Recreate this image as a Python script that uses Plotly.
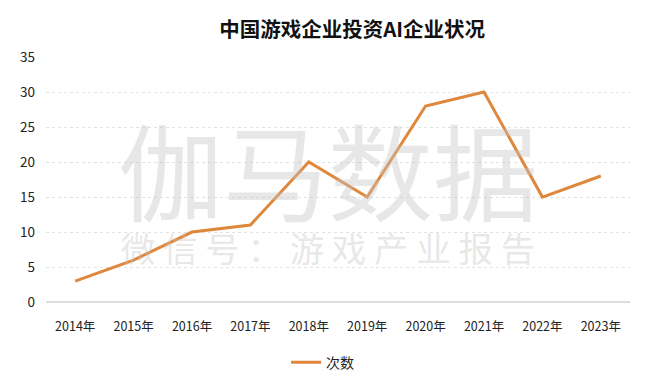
import plotly.graph_objects as go

years = ["2014年", "2015年", "2016年", "2017年", "2018年", "2019年", "2020年", "2021年", "2022年", "2023年"]
counts = [3, 6, 10, 11, 20, 15, 28, 30, 15, 18]
y_ticks = [0, 5, 10, 15, 20, 25, 30, 35]

wm_big = "伽马数据"
wm_small = ["微", "信", "号", "：", "游", "戏", "产", "业", "报", "告"]

font_family = "Noto Sans CJK SC, Noto Sans, sans-serif"
wm_color = "rgba(195,195,195,0.40)"

fig = go.Figure()
fig.add_trace(go.Scatter(
    x=years, y=counts, mode="lines", name="次数",
    line=dict(color="#DF873B", width=3),
))

wm_text = ('<span style="font-size:105px">' + wm_big + '</span><br>'
           '<span style="font-size:34.5px">' + " ".join(wm_small) + '</span>')
fig.add_annotation(text=wm_text, xref="paper", yref="paper", x=0.483, y=0.49,
                   xanchor="center", yanchor="middle", align="center",
                   showarrow=False, font=dict(size=37.7, color=wm_color, family=font_family))

fig.update_layout(
    width=642, height=378,
    margin=dict(l=32, r=20, t=49, b=81),
    paper_bgcolor="white", plot_bgcolor="white",
    title=dict(text="<b>中国游戏企业投资AI企业状况</b>", x=0.536, xanchor="center", y=0.942, yanchor="middle",
               font=dict(size=20.5, color="#111111", family=font_family)),
    font=dict(family=font_family, color="#222222", size=13),
    showlegend=True,
    legend=dict(orientation="h", xref="container", yref="container", x=0.49, xanchor="center",
                y=0.062, yanchor="middle", font=dict(size=14, color="#222222")),
    xaxis=dict(type="category", tickvals=years, range=[-0.5, 9.5], showgrid=False, showline=False,
               zeroline=False, ticks="", tickfont=dict(size=12.5), ticklabelstandoff=15),
    yaxis=dict(range=[0, 35], tickvals=y_ticks, showgrid=True, gridcolor="#E2E2E2", griddash="dot",
               zeroline=True, zerolinecolor="#DDDDDD", zerolinewidth=1.5, showline=False,
               ticks="", tickfont=dict(size=13.5), ticklabelstandoff=10),
)

fig.write_html("out.html")
